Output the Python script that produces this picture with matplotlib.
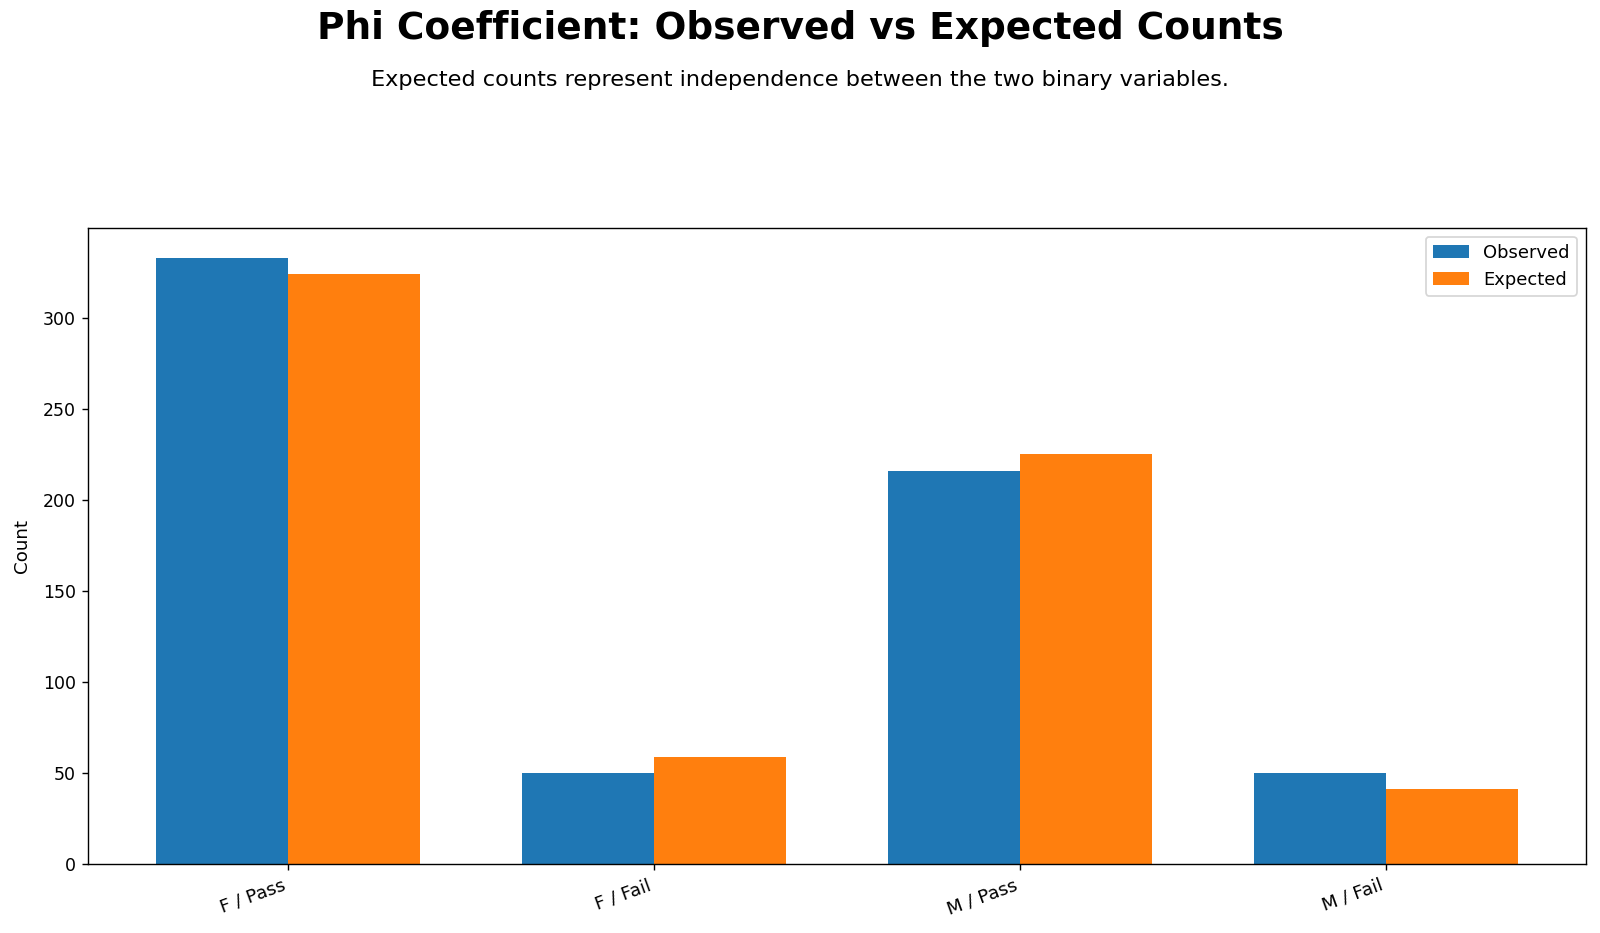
import numpy as np
import matplotlib
matplotlib.use("Agg")
import matplotlib.pyplot as plt

categories = ["F / Pass", "F / Fail", "M / Pass", "M / Fail"]
observed = [333, 50, 216, 50]
expected = [324, 59, 225, 41]

fig = plt.figure(figsize=(12.8, 7.464), dpi=125)
ax = fig.add_axes([0.055, 0.074, 0.936, 0.682])

x = np.arange(len(categories))
w = 0.36
ax.bar(x - w / 2, observed, w, label="Observed", color="#1f77b4")
ax.bar(x + w / 2, expected, w, label="Expected", color="#ff7f0e")
ax.set_xticks(x)
ax.set_xticklabels(categories, rotation=20, ha="right", fontsize=10.5)
ax.tick_params(axis="y", labelsize=10)
ax.set_ylabel("Count", fontsize=10.5, labelpad=7)
ax.legend(loc="upper right", fontsize=10.3)

fig.text(0.5, 0.969, "Phi Coefficient: Observed vs Expected Counts", ha="center", va="center",
         fontsize=21.6, fontweight="bold")
fig.text(0.5, 0.914, "Expected counts represent independence between the two binary variables.",
         ha="center", va="center", fontsize=12.9)

fig.savefig("out.png", dpi=125)
